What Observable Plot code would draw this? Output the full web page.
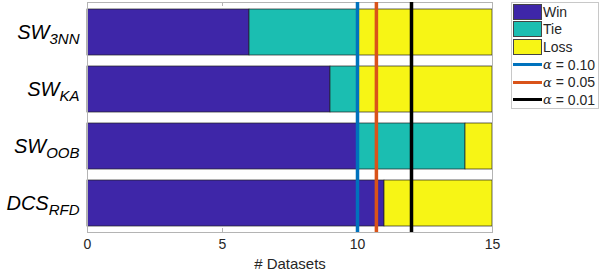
<!DOCTYPE html>
<html>
<head>
<meta charset="utf-8">
<script src="https://cdn.jsdelivr.net/npm/d3@7"></script>
<script src="https://cdn.jsdelivr.net/npm/@observablehq/plot@0.6"></script>
<style>
  html, body { margin: 0; padding: 0; background: #fff; }
  #wrap { position: relative; width: 601px; height: 276px; font-family: "Liberation Sans", Arial, sans-serif; }
  #legend { position: absolute; left: 511px; top: 2px; width: 88px; height: 107px; border: 1px solid #c8c8c8; background: #fff; box-sizing: border-box; padding-top: 0px; }
  .row { height: 17.6px; display: flex; align-items: center; font-size: 14px; color: #262626; white-space: nowrap; }
  .sw { width: 29px; height: 16px; margin-left: 1px; margin-right: 1px; box-sizing: border-box; border: 1px solid #444; flex: none; }
  .ln { width: 29px; height: 3px; margin-left: 1px; margin-right: 1px; flex: none; }
  .al { font-family: "DejaVu Serif", serif; font-style: italic; font-size: 13px; margin-right: 4px; }
</style>
</head>
<body>
<div id="wrap"></div>
<script>
const methods = ["SW_3NN", "SW_KA", "SW_OOB", "DCS_RFD"];
const mainNames = ["SW", "SW", "SW", "DCS"];
const subNames = ["3NN", "KA", "OOB", "RFD"];
const outcomes = ["Win", "Tie", "Loss"];
const winCounts = [6, 9, 10, 11];
const tieCounts = [4, 1, 4, 0];
const lossCounts = [5, 5, 1, 4];
const alphaLabels = ["0.10", "0.05", "0.01"];
const alphaThresholds = [10, 10.7, 12];
const outcomeColors = ["#3e26a8", "#1bbeb1", "#f7f515"];
const alphaColors = ["#0072bd", "#d95319", "#000000"];
const xTicks = [0, 5, 10, 15];

const series = [winCounts, tieCounts, lossCounts];
const rows = [];
methods.forEach((m, i) => {
  outcomes.forEach((o, j) => rows.push({method: m, outcome: o, count: series[j][i]}));
});
const rules = alphaThresholds.map((v, i) => ({value: v, label: alphaLabels[i]}));

const chart = Plot.plot({
  width: 601,
  height: 276,
  marginLeft: 87,
  marginRight: 109,
  marginTop: 2,
  marginBottom: 44,
  style: {fontFamily: "Liberation Sans, Arial, sans-serif", background: "#fff"},
  x: {domain: [0, 15], ticks: xTicks, label: null},
  y: {domain: methods, paddingInner: 0.2, paddingOuter: 0.1, label: null},
  color: {domain: outcomes, range: outcomeColors},
  marks: [
    Plot.barX(rows, Plot.stackX({y: "method", x: "count", fill: "outcome", order: outcomes, stroke: "#222", strokeWidth: 0.7})),
    Plot.frame({stroke: "#b4b4b4", strokeWidth: 1}),
    Plot.tickX(xTicks, {x: d => d, insetBottom: 226, stroke: "#b4b4b4"}),
    Plot.tickX(xTicks, {x: d => d, insetTop: 226, stroke: "#b4b4b4"}),
    Plot.ruleX(rules, {x: "value", stroke: (d, i) => alphaColors[i], strokeWidth: 3.5}),
    Plot.axisX({ticks: xTicks, tickSize: 0, tickPadding: 7, fontSize: 14, color: "#262626", label: null}),
    Plot.axisY({tickSize: 0, tickPadding: 8, fontSize: 20, label: null}),
    Plot.text(["# Datasets"], {frameAnchor: "bottom", dy: 36, fontSize: 15, fill: "#262626"})
  ]
});

// y tick labels with subscripts
d3.select(chart).selectAll("g[aria-label='y-axis tick label'] text").each(function() {
  const t = d3.select(this);
  const name = t.text();
  const i = methods.indexOf(name);
  if (i < 0) return;
  t.text(null).attr("font-style", "italic").attr("fill", "#000");
  t.append("tspan").text(mainNames[i]);
  t.append("tspan").attr("font-size", 15).attr("dy", 5).text(subNames[i]);
});

const wrap = document.getElementById("wrap");
wrap.appendChild(chart);

const legend = document.createElement("div");
legend.id = "legend";
outcomes.forEach((o, i) => {
  const r = document.createElement("div");
  r.className = "row";
  r.innerHTML = `<div class="sw" style="background:${outcomeColors[i]}"></div><span>${o}</span>`;
  legend.appendChild(r);
});
alphaLabels.forEach((a, i) => {
  const r = document.createElement("div");
  r.className = "row";
  r.innerHTML = `<div class="ln" style="background:${alphaColors[i]}"></div><span class="al">α</span><span>= ${a}</span>`;
  legend.appendChild(r);
});
wrap.appendChild(legend);
</script>
</body>
</html>
